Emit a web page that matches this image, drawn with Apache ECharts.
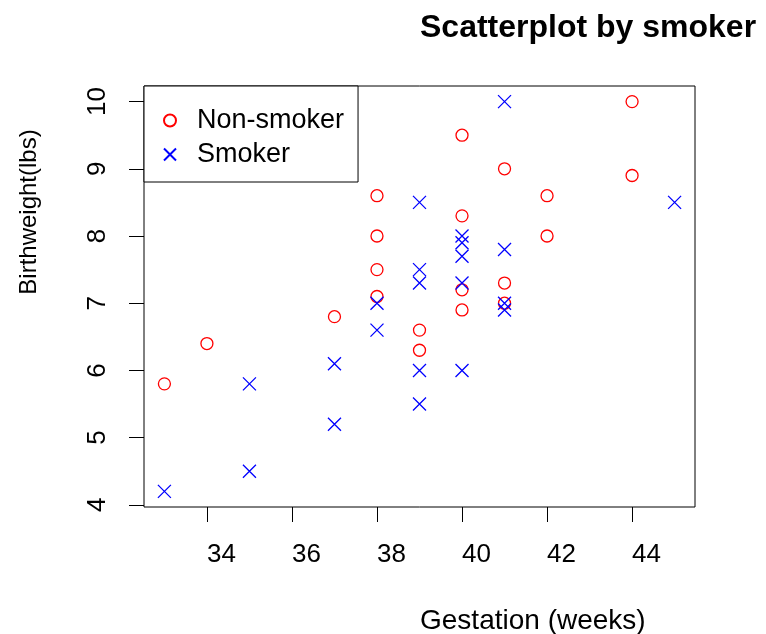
<!DOCTYPE html>
<html>
<head>
<meta charset="utf-8">
<script src="https://cdn.jsdelivr.net/npm/echarts@6/dist/echarts.min.js"></script>
<style>html,body{margin:0;padding:0;background:#fff;}#c{width:766px;height:634px;}</style>
</head>
<body>
<div id="c"></div>
<script>
const nonSmokerGestation = [33, 34, 37, 38, 38, 38, 38, 39, 39, 40, 40, 40, 40, 41, 41, 41, 42, 42, 44, 44];
const nonSmokerWeight   = [5.8, 6.4, 6.8, 8.6, 8.0, 7.5, 7.1, 6.6, 6.3, 9.5, 8.3, 7.2, 6.9, 9.0, 7.3, 7.0, 8.6, 8.0, 10.0, 8.9];
const smokerGestation = [33, 35, 35, 37, 37, 38, 38, 39, 39, 39, 39, 39, 40, 40, 40, 40, 40, 41, 41, 41, 41, 45];
const smokerWeight    = [4.2, 5.8, 4.5, 6.1, 5.2, 7.0, 6.6, 8.5, 7.5, 7.3, 6.0, 5.5, 8.0, 7.9, 7.7, 7.3, 6.0, 10.0, 7.8, 7.0, 6.9, 8.5];
const xTicks = [34, 36, 38, 40, 42, 44];
const yTicks = [4, 5, 6, 7, 8, 9, 10];
const seriesNames = ['Non-smoker', 'Smoker'];
const titleText = 'Scatterplot by smoker';
const xTitle = 'Gestation (weeks)';
const yTitle = 'Birthweight(lbs)';

const FONT = "'Liberation Sans', Arial, sans-serif";
const pair = (xs, ys) => xs.map((x, i) => [x, ys[i]]);
const xMin = 32.52, xMax = 45.48, yMin = 3.968, yMax = 10.232;

const chart = echarts.init(document.getElementById('c'), null, {renderer: 'canvas'});
chart.setOption({
  animation: false,
  backgroundColor: '#fff',
  grid: {left: 144, right: 71, top: 86, bottom: 127, show: true, borderColor: '#000', borderWidth: 1, backgroundColor: 'transparent'},
  xAxis: {
    type: 'value', min: xMin, max: xMax,
    axisLine: {show: false},
    splitLine: {show: false},
    axisTick: {show: true, customValues: xTicks, length: 15, lineStyle: {color: '#000', width: 1}},
    axisLabel: {customValues: xTicks, color: '#000', fontFamily: FONT, fontSize: 26, margin: 35, align: 'left'}
  },
  yAxis: {
    type: 'value', min: yMin, max: yMax,
    axisLine: {show: false},
    splitLine: {show: false},
    axisTick: {show: true, customValues: yTicks, length: 15, lineStyle: {color: '#000', width: 1}},
    axisLabel: {customValues: yTicks, color: '#000', fontFamily: FONT, fontSize: 26, margin: 33, rotate: 90, align: 'center', verticalAlign: 'bottom'}
  },
  legend: {
    orient: 'vertical', left: 144, top: 86,
    data: seriesNames,
    borderColor: '#000', borderWidth: 1, borderRadius: 0, backgroundColor: '#fff',
    padding: [19, 14, 12, 19],
    itemWidth: 12, itemHeight: 12, itemGap: 3,
    textStyle: {color: '#000', fontFamily: FONT, fontSize: 27, lineHeight: 31, padding: [0, 0, 0, 16]}
  },
  graphic: [
    {type: 'text', x: 420, y: 28, style: {text: titleText, font: "bold 32px 'Liberation Sans', Arial, sans-serif", fill: '#000', align: 'left', verticalAlign: 'middle'}},
    {type: 'text', x: 420, y: 621, style: {text: xTitle, font: "28px 'Liberation Sans', Arial, sans-serif", fill: '#000', align: 'left', verticalAlign: 'middle'}},
    {type: 'text', x: 29, y: 212, rotation: Math.PI / 2, style: {text: yTitle, font: "24px 'Liberation Sans', Arial, sans-serif", fill: '#000', align: 'center', verticalAlign: 'middle'}}
  ],
  series: [
    {
      name: seriesNames[0], type: 'scatter', data: pair(nonSmokerGestation, nonSmokerWeight),
      symbol: 'circle', symbolSize: 12,
      itemStyle: {color: 'transparent', borderColor: '#ff0000', borderWidth: 1.3, opacity: 1}
    },
    {
      name: seriesNames[1], type: 'scatter', data: pair(smokerGestation, smokerWeight),
      symbol: 'path://M0,0L10,10M10,0L0,10', symbolSize: 13,
      itemStyle: {color: 'transparent', borderColor: '#0000ff', borderWidth: 1.3, opacity: 1}
    }
  ]
});
</script>
</body>
</html>
